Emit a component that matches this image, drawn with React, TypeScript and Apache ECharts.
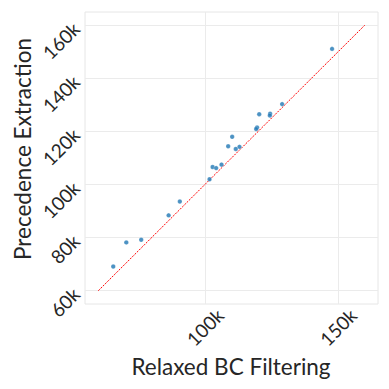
import React, { useEffect, useRef } from "react";
import * as echarts from "echarts";

const relaxedBC = [147750, 129000, 120400, 124500, 124400, 119600, 119250, 110250, 108750, 113000, 111600, 102900, 104250, 106250, 101750, 90600, 86400, 76100, 70500, 65600];
const precedence = [151100, 130300, 126500, 126700, 126000, 121500, 120900, 118000, 114400, 114200, 113400, 106600, 106200, 107500, 102000, 93600, 88400, 79200, 78200, 69100];
const xTicks = [100000, 150000];
const yTicks = [60000, 80000, 100000, 120000, 140000, 160000];
const diagonal = [[60000, 60000], [160000, 160000]];
const xTitle = "Relaxed BC Filtering";
const yTitle = "Precedence Extraction";

const FONT = "Lato";
const fmt = (v: number) => `${Math.round(v / 1000)}k`;

export default function App() {
  const ref = useRef<HTMLDivElement>(null);
  useEffect(() => {
    if (!ref.current) return;
    const chart = echarts.init(ref.current, undefined, { renderer: "svg" });
    chart.setOption({
      animation: false,
      backgroundColor: "#ffffff",
      grid: {
        left: 85,
        right: 11,
        top: 12,
        bottom: 85,
        show: true,
        borderColor: "#e6e6e6",
        borderWidth: 1,
        containLabel: false,
      },
      xAxis: {
        type: "value",
        min: 55000,
        max: 165000,
        axisLine: { show: false },
        axisTick: { show: false, customValues: xTicks },
        splitLine: { show: true, lineStyle: { color: "#ebebeb", width: 1 } },
        axisLabel: {
          customValues: xTicks,
          formatter: fmt,
          rotate: 45,
          align: "center",
          verticalAlign: "middle",
          margin: 23,
          fontSize: 19,
          fontFamily: FONT,
          color: "#262626",
        },
      },
      yAxis: {
        type: "value",
        min: 55000,
        max: 165000,
        axisLine: { show: false },
        axisTick: { show: false, customValues: yTicks },
        splitLine: { show: true, lineStyle: { color: "#ebebeb", width: 1 } },
        axisLabel: {
          customValues: yTicks,
          formatter: fmt,
          rotate: 45,
          margin: 9,
          fontSize: 19,
          fontFamily: FONT,
          color: "#262626",
        },
      },
      series: [
        {
          type: "line",
          data: diagonal,
          symbol: "none",
          lineStyle: { color: "#ff0000", width: 1, type: [2, 1.2] },
          z: 2,
        },
        {
          type: "scatter",
          data: relaxedBC.map((x, i) => [x, precedence[i]]),
          symbolSize: 4.5,
          itemStyle: { color: "#1f77b4", borderColor: "#ffffff", borderWidth: 0.3 },
          z: 3,
        },
      ],
      graphic: [
        {
          type: "text",
          x: 231,
          y: 366,
          style: {
            text: xTitle,
            fontSize: 22.5,
            fontFamily: FONT,
            fill: "#262626",
            textAlign: "center",
            textVerticalAlign: "middle",
          },
        },
        {
          type: "text",
          x: 22,
          y: 149,
          rotation: Math.PI / 2,
          style: {
            text: yTitle,
            fontSize: 22.5,
            fontFamily: FONT,
            fill: "#262626",
            textAlign: "center",
            textVerticalAlign: "middle",
          },
        },
      ],
    });
    return () => chart.dispose();
  }, []);
  return (
    <div
      ref={ref}
      style={{ position: "absolute", left: 0, top: 0, width: 389, height: 389 }}
    />
  );
}
